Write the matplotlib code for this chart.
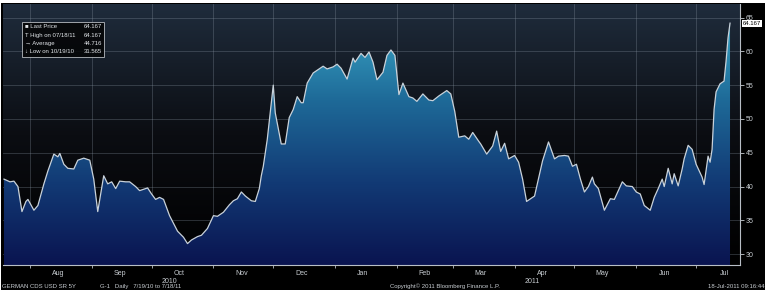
import numpy as np
import matplotlib
matplotlib.use("Agg")
import matplotlib.pyplot as plt
import matplotlib.dates as mdates
from matplotlib.colors import LinearSegmentedColormap
from matplotlib.patches import Rectangle
import datetime as dt

plt.rcParams['font.family'] = ['Liberation Sans', 'DejaVu Sans']

# ---------------- data ----------------
start_date = dt.date(2010, 7, 19)
day_offsets = [0, 3, 5, 7, 9, 11, 12, 15, 17, 20, 22, 25, 27, 28, 30, 32, 35, 37, 40, 43,
               45, 47, 50, 52, 54, 56, 58, 61, 63, 66, 68, 72, 74, 76, 78, 80, 83, 87, 90, 92,
               94, 97, 99, 102, 105, 107, 110, 113, 115, 117, 119, 121, 124, 126, 128, 129, 130, 132, 134, 135,
               136, 139, 141, 143, 145, 147, 149, 150, 152, 155, 157, 160, 162, 165, 167, 169, 172, 175, 176, 179,
               181, 183, 185, 187, 190, 192, 194, 196, 198, 200, 203, 205, 207, 210, 213, 215, 218, 222, 224, 226,
               228, 231, 233, 235, 238, 239, 242, 245, 247, 249, 251, 253, 256, 258, 260, 262, 266, 270, 273, 276,
               278, 281, 283, 285, 287, 289, 291, 293, 295, 296, 298, 301, 304, 306, 310, 312, 315, 317, 319, 321,
               324, 326, 328, 330, 331, 333, 335, 336, 338, 340, 341, 343, 345, 347, 350, 351, 353, 354, 355, 356,
               357, 359, 361, 362, 363, 364]
values = [41.1, 40.7, 40.8, 40.0, 36.3, 37.8, 38.1, 36.5, 37.2, 40.4, 42.3, 44.8, 44.4, 44.9, 43.3, 42.7, 42.6, 43.9, 44.2, 43.9,
          41.1, 36.3, 41.6, 40.4, 40.7, 39.7, 40.8, 40.7, 40.7, 40.0, 39.4, 39.8, 38.9, 38.1, 38.4, 38.1, 35.7, 33.4, 32.5, 31.565,
          32.1, 32.6, 32.8, 33.8, 35.7, 35.6, 36.2, 37.3, 37.9, 38.2, 39.2, 38.6, 37.9, 37.8, 39.7, 41.6, 43.0, 47.0, 52.4, 55.0,
          50.9, 46.3, 46.3, 50.2, 51.4, 53.3, 52.4, 52.4, 55.3, 56.8, 57.2, 57.8, 57.4, 57.7, 58.1, 57.5, 55.9, 59.0, 58.4, 59.7,
          59.1, 59.9, 58.4, 55.8, 56.9, 59.4, 60.2, 59.4, 53.6, 55.3, 53.3, 53.1, 52.6, 53.7, 52.8, 52.7, 53.4, 54.2, 53.7, 51.1,
          47.3, 47.5, 47.0, 48.0, 46.7, 46.3, 44.8, 46.0, 48.2, 45.2, 46.4, 44.1, 44.6, 43.6, 41.1, 37.8, 38.6, 43.8, 46.6, 44.1,
          44.5, 44.6, 44.5, 43.0, 43.3, 41.1, 39.2, 40.0, 41.4, 40.4, 39.7, 36.5, 38.2, 38.1, 40.7, 40.1, 40.0, 39.2, 38.9, 37.2,
          36.5, 38.4, 39.7, 41.1, 40.0, 42.7, 40.4, 41.9, 40.1, 42.6, 44.1, 46.1, 45.5, 43.3, 41.4, 40.3, 44.5, 43.6, 45.5, 51.4,
          54.0, 55.2, 55.6, 58.5, 62.0, 64.167]

month_labels = ["Aug", "Sep", "Oct", "Nov", "Dec", "Jan", "Feb", "Mar", "Apr", "May", "Jun", "Jul"]
month_starts = [(2010, 8), (2010, 9), (2010, 10), (2010, 11), (2010, 12), (2011, 1), (2011, 2),
                (2011, 3), (2011, 4), (2011, 5), (2011, 6), (2011, 7)]
y_ticks = [30, 35, 40, 45, 50, 55, 60, 65]
legend_rows = [("\u25A0 Last Price", "64.167"),
               ("T High on 07/18/11", "64.167"),
               ("\u2192 Average", "44.716"),
               ("\u2193 Low on 10/19/10", "31.565")]
last_price = 64.167

# ---------------- figure ----------------
W, H = 768, 292
fig = plt.figure(figsize=(W / 100, H / 100), dpi=100, facecolor="white")
fig.patches.append(Rectangle((1 / W, 2 / H), 764 / W, 287 / H, transform=fig.transFigure,
                             facecolor="black", edgecolor="none", zorder=-10))

ax = fig.add_axes([3 / W, (H - 265) / H, 737 / W, 261 / H])
ax.set_facecolor("black")

dates = [start_date + dt.timedelta(days=d) for d in day_offsets]
xnum = mdates.date2num(dates)
x0 = mdates.date2num(start_date) - 0.5
x1 = mdates.date2num(dt.date(2011, 7, 23))
ylo, yhi = 28.4, 67.0

# background gradient
bg_cmap = LinearSegmentedColormap.from_list("bg", ["#000000", "#0b0d12", "#1f2c3c"])
grad = np.linspace(0, 1, 256).reshape(-1, 1)
ax.imshow(grad, extent=[x0, x1, ylo, yhi], origin="lower", aspect="auto", cmap=bg_cmap, zorder=0)

# area fill gradient
fill_cmap = LinearSegmentedColormap.from_list("fill", ["#0a1450", "#123a75", "#1e6a98", "#3aa6c6"])
poly = ax.fill_between(xnum, values, ylo, facecolor="none", edgecolor="none")
im = ax.imshow(grad, extent=[x0, x1, ylo, 65], origin="lower", aspect="auto", cmap=fill_cmap, zorder=2)
im.set_clip_path(poly.get_paths()[0], transform=ax.transData)

ax.plot(xnum, values, color="#c9d2da", lw=0.9, zorder=3)

ax.set_xlim(x0, x1)
ax.set_ylim(ylo, yhi)

# grid
for yt in y_ticks:
    ax.axhline(yt, color="#8a96a4", lw=0.6, alpha=0.35, zorder=1)
for (yy, mm) in month_starts:
    ax.axvline(mdates.date2num(dt.date(yy, mm, 1)), color="#8a96a4", lw=0.6, alpha=0.35, zorder=1)

# spines
for s in ["top", "left"]:
    ax.spines[s].set_visible(False)
for s in ["right", "bottom"]:
    ax.spines[s].set_color("#b8bec6")
    ax.spines[s].set_linewidth(0.8)

ax.yaxis.tick_right()
ax.set_yticks(y_ticks)
ax.set_yticklabels([str(t) for t in y_ticks])
ax.tick_params(axis="y", colors="#c8cdd2", labelsize=5, length=3, width=0.6, pad=1)
ax.set_xticks([mdates.date2num(dt.date(yy, mm, 1)) for (yy, mm) in month_starts])
ax.set_xticklabels([])
ax.tick_params(axis="x", colors="#b8bec6", length=2, width=0.6)
for (yy, mm), lab in zip(month_starts, month_labels):
    ax.text(mdates.date2num(dt.date(yy, mm, 15)), -0.02, lab, transform=ax.get_xaxis_transform(),
            ha="center", va="top", fontsize=5, color="#c8cdd2")
ax.text(mdates.date2num(dt.date(2010, 10, 10)), -0.05, "2010", transform=ax.get_xaxis_transform(),
        ha="center", va="top", fontsize=5, color="#c8cdd2")
ax.text(mdates.date2num(dt.date(2011, 4, 10)), -0.05, "2011", transform=ax.get_xaxis_transform(),
        ha="center", va="top", fontsize=5, color="#c8cdd2")

# last price tag
ax.annotate(f"{last_price:.3f}", xy=(1.0, last_price), xycoords=("axes fraction", "data"),
            xytext=(2, 0), textcoords="offset points", ha="left", va="center",
            fontsize=4.3, color="black",
            bbox=dict(boxstyle="square,pad=0.15", facecolor="white", edgecolor="none"),
            annotation_clip=False, zorder=6)

# legend box
lx0, ly0 = 22 / W, (H - 57) / H
fig.patches.append(Rectangle((lx0, ly0), 82 / W, 35 / H, transform=fig.transFigure,
                             facecolor="#050607", edgecolor="#c8cdd2", lw=0.6, alpha=0.9, zorder=5))
for i, (lab, val) in enumerate(legend_rows):
    yy = (H - 27 - i * 8.2) / H
    fig.text(25 / W, yy, lab, fontsize=4.3, color="#e0e4e8", ha="left", va="center", zorder=6)
    fig.text(102 / W, yy, val, fontsize=4.3, color="#e0e4e8", ha="right", va="center", zorder=6)

# footer
fy = (H - 286.5) / H
fig.text(2 / W, fy, "GERMAN CDS USD SR 5Y", fontsize=4.3, color="#c8cdd2", ha="left", va="center")
fig.text(100 / W, fy, "G-1   Daily   7/19/10 to 7/18/11", fontsize=4.3, color="#c8cdd2", ha="left", va="center")
fig.text(390 / W, fy, "Copyright\u00a9 2011 Bloomberg Finance L.P.", fontsize=4.3, color="#c8cdd2", ha="left", va="center")
fig.text(764 / W, fy, "18-Jul-2011 09:16:44", fontsize=4.3, color="#c8cdd2", ha="right", va="center")

fig.savefig("out.png", dpi=100, facecolor="white")
